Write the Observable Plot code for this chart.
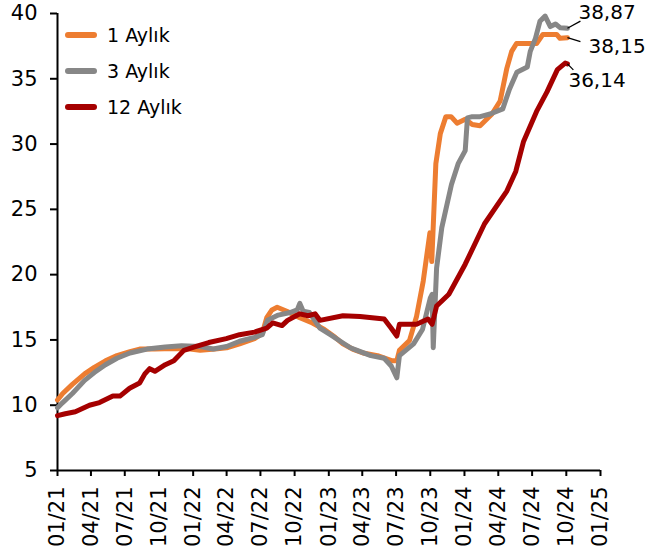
<!DOCTYPE html>
<html><head><meta charset="utf-8">
<script src="https://cdn.jsdelivr.net/npm/d3@7"></script>
<script src="https://cdn.jsdelivr.net/npm/@observablehq/plot@0.6"></script>
<style>
body{margin:0;background:#fff;}
#chart{position:relative;width:645px;height:550px;font-family:"DejaVu Sans",sans-serif;}
#legend{position:absolute;left:0;top:0;pointer-events:none;}
</style></head><body><div id="chart"></div>
<script>
const seriesNames = ["1 Aylık", "3 Aylık", "12 Aylık"];
const seriesColors = ["#ED7D31", "#878787", "#A50000"];

const dates1 = ["2021-01-01","2021-01-15","2021-02-10","2021-03-15","2021-04-10","2021-05-10","2021-06-10","2021-07-15","2021-08-10","2021-09-20","2021-11-10","2021-12-24","2022-01-20","2022-03-01","2022-04-01","2022-05-06","2022-06-15","2022-07-06","2022-07-18","2022-08-01","2022-08-15","2022-09-10","2022-10-15","2022-11-18","2022-12-20","2023-01-18","2023-02-08","2023-03-06","2023-04-03","2023-05-12","2023-06-21","2023-07-03","2023-07-10","2023-08-06","2023-08-25","2023-09-12","2023-09-30","2023-10-05","2023-10-16","2023-10-28","2023-11-12","2023-11-26","2023-12-12","2024-01-03","2024-01-22","2024-02-12","2024-03-15","2024-04-06","2024-04-24","2024-05-07","2024-05-20","2024-07-13","2024-07-30","2024-09-05","2024-09-14","2024-10-04"];
const vals1 = [10.4,10.9,11.6,12.4,12.9,13.4,13.8,14.1,14.3,14.3,14.35,14.3,14.2,14.3,14.4,14.7,15.1,15.5,16.7,17.3,17.5,17.2,16.7,16.3,15.8,15.2,14.7,14.3,14.0,13.8,13.4,13.4,14.2,14.95,16.8,19.5,23.2,21.0,28.5,30.8,32.1,32.1,31.6,31.9,31.5,31.4,32.3,33.3,35.8,37.1,37.7,37.7,38.4,38.4,38.1,38.15];

const dates3 = ["2021-01-01","2021-01-15","2021-02-10","2021-03-15","2021-04-10","2021-05-10","2021-06-10","2021-07-15","2021-08-30","2021-10-18","2021-12-01","2022-01-20","2022-02-24","2022-04-01","2022-05-06","2022-06-15","2022-07-06","2022-07-20","2022-08-18","2022-09-19","2022-10-08","2022-10-15","2022-10-24","2022-11-10","2022-12-08","2023-01-05","2023-02-01","2023-02-28","2023-03-18","2023-04-24","2023-05-30","2023-06-18","2023-07-03","2023-07-10","2023-08-17","2023-09-10","2023-10-01","2023-10-06","2023-10-09","2023-10-18","2023-11-01","2023-11-27","2023-12-15","2024-01-03","2024-01-09","2024-01-22","2024-02-12","2024-03-10","2024-04-13","2024-05-01","2024-05-21","2024-06-18","2024-06-26","2024-07-10","2024-07-22","2024-08-05","2024-08-19","2024-09-02","2024-09-15","2024-10-04"];
const vals3 = [9.8,10.2,10.9,11.9,12.5,13.1,13.6,14.0,14.3,14.45,14.55,14.5,14.3,14.5,14.9,15.2,15.4,16.5,16.9,17.1,17.3,17.8,17.2,17.1,15.9,15.4,14.9,14.4,14.2,13.8,13.6,13.0,12.1,13.8,14.7,15.8,18.2,18.5,14.4,20.5,23.6,26.9,28.5,29.5,32.0,32.1,32.1,32.3,32.7,34.2,35.5,35.9,37.1,38.1,39.4,39.8,39.0,39.2,38.9,38.87];

const dates12 = ["2021-01-01","2021-01-22","2021-02-18","2021-03-28","2021-04-24","2021-05-30","2021-06-18","2021-07-14","2021-08-10","2021-08-24","2021-09-06","2021-09-20","2021-10-18","2021-11-10","2021-12-07","2022-01-09","2022-02-12","2022-03-31","2022-05-06","2022-06-15","2022-07-18","2022-08-03","2022-08-28","2022-09-12","2022-10-15","2022-11-06","2022-11-25","2022-12-08","2023-02-08","2023-03-26","2023-05-30","2023-06-18","2023-07-03","2023-07-10","2023-08-25","2023-09-25","2023-10-06","2023-10-18","2023-11-20","2024-01-03","2024-02-24","2024-04-24","2024-05-18","2024-06-08","2024-07-13","2024-08-10","2024-09-07","2024-09-28","2024-10-04"];
const vals12 = [9.2,9.35,9.5,10.0,10.2,10.7,10.7,11.3,11.7,12.4,12.8,12.6,13.1,13.4,14.2,14.5,14.8,15.1,15.4,15.6,15.9,16.3,16.1,16.5,17.0,16.85,17.0,16.5,16.85,16.8,16.6,15.9,15.3,16.2,16.2,16.6,16.2,17.6,18.5,20.8,23.9,26.4,27.9,30.2,32.5,34.0,35.7,36.2,36.14];

const xTickDates = ["2021-01-01","2021-04-01","2021-07-01","2021-10-01","2022-01-01","2022-04-01","2022-07-01","2022-10-01","2023-01-01","2023-04-01","2023-07-01","2023-10-01","2024-01-01","2024-04-01","2024-07-01","2024-10-01","2025-01-01"];
const yTicks = [5, 10, 15, 20, 25, 30, 35, 40];

const series = [
  {name: seriesNames[0], dates: dates1, vals: vals1},
  {name: seriesNames[1], dates: dates3, vals: vals3},
  {name: seriesNames[2], dates: dates12, vals: vals12}
];
const rows = series.flatMap(s => s.dates.map((d, j) => ({name: s.name, date: new Date(d), value: s.vals[j]})));
const ends = series.map(s => ({name: s.name, date: new Date(s.dates[s.dates.length - 1]), value: s.vals[s.vals.length - 1]}));

// label placement (styling, in pixels / small data offsets)
const labelDx = [21, 11, 1];
const labelDy = [9, -16, 17];
const leadDays = [35, 35, 16];
const leadDv = [-0.3, 0.55, -0.46];

const fmt = v => v.toFixed(2).replace(".", ",");
const xDomain = [new Date(xTickDates[0]), new Date(xTickDates[xTickDates.length - 1])];

const chart = Plot.plot({
  width: 645, height: 550,
  marginLeft: 57, marginRight: 45, marginTop: 13, marginBottom: 80,
  style: {fontFamily: "DejaVu Sans, sans-serif", fontSize: "21px", background: "white", color: "black"},
  x: {type: "utc", domain: xDomain, label: null},
  y: {domain: [5, 40], label: null},
  color: {domain: seriesNames, range: seriesColors},
  marks: [
    Plot.axisY({ticks: yTicks, tickSize: 7, tickPadding: 13, fontSize: 21, strokeWidth: 2, tickFormat: d => String(d)}),
    Plot.axisX({ticks: xTickDates.map(d => new Date(d)), tickFormat: d3.utcFormat("%m/%y"), tickRotate: -90, tickSize: 6, tickPadding: 10, fontSize: 21, strokeWidth: 2}),
    Plot.ruleX([xDomain[0]], {y1: 5, y2: 40, strokeWidth: 2}),
    Plot.ruleY([5], {x1: xDomain[0], x2: xDomain[1], strokeWidth: 2}),
    Plot.line(rows, {x: "date", y: "value", z: "name", stroke: "name", strokeWidth: 5, strokeLinejoin: "round", strokeLinecap: "round"}),
    Plot.link(ends, {
      x1: "date", y1: "value",
      x2: (d, i) => d3.utcDay.offset(d.date, leadDays[i]),
      y2: (d, i) => d.value + leadDv[i],
      stroke: "black", strokeWidth: 1.3
    }),
    ...ends.map((e, i) => Plot.text([e], {
      x: "date", y: "value", text: d => fmt(d.value),
      dx: labelDx[i], dy: labelDy[i], textAnchor: "start", lineAnchor: "middle",
      fontSize: 20, fill: "black"
    }))
  ]
});

const container = document.getElementById("chart");
container.appendChild(chart);

// legend overlay
const leg = d3.select(container).append("svg").attr("id", "legend").attr("width", 220).attr("height", 130);
const legY = [35, 71, 107];
seriesNames.forEach((n, i) => {
  leg.append("line").attr("x1", 68).attr("x2", 94).attr("y1", legY[i]).attr("y2", legY[i])
    .attr("stroke", seriesColors[i]).attr("stroke-width", 6).attr("stroke-linecap", "round");
  leg.append("text").attr("x", 107).attr("y", legY[i]).attr("dy", "0.36em")
    .attr("font-family", "DejaVu Sans, sans-serif").attr("font-size", 19).attr("fill", "black").text(n);
});
</script>
</body></html>
